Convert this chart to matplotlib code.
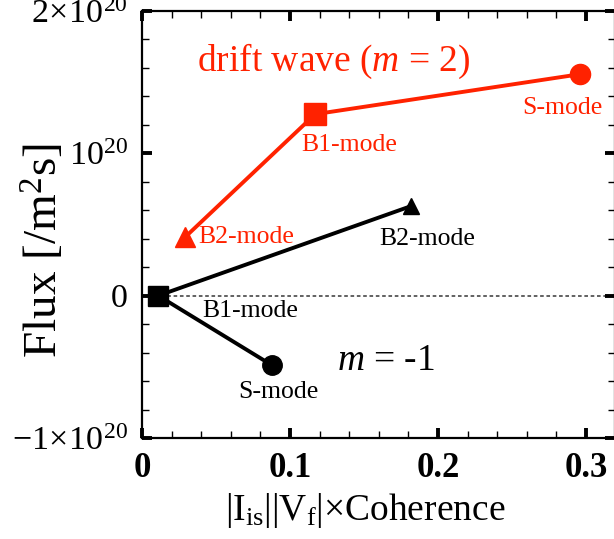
import matplotlib
matplotlib.use("Agg")
import matplotlib.pyplot as plt
from matplotlib.ticker import MultipleLocator, FixedLocator, FixedFormatter

plt.rcParams['font.family'] = ['Liberation Serif', 'DejaVu Serif']
plt.rcParams['mathtext.fontset'] = 'custom'
plt.rcParams['mathtext.rm'] = 'Liberation Serif'
plt.rcParams['mathtext.it'] = 'Liberation Serif:italic'
plt.rcParams['mathtext.bf'] = 'Liberation Serif:bold'

# drift wave (m = 2): B2, B1, S modes
drift_x = [0.029, 0.117, 0.296]
drift_y = [0.41e20, 1.275e20, 1.556e20]
drift_labels = ["B2-mode", "B1-mode", "S-mode"]

# m = -1 branch: B1 at the origin, to B2 and to S
m1_up_x = [0.011, 0.182]
m1_up_y = [0.0, 0.63e20]
m1_down_x = [0.011, 0.088]
m1_down_y = [0.0, -0.49e20]
m1_labels = ["B1-mode", "B2-mode", "S-mode"]

y_ticks = [-1e20, 0, 1e20, 2e20]
y_tick_labels = [r"$-1\!\times\!10^{20}$", "0", r"$10^{20}$", r"$2\!\times\!10^{20}$"]
x_ticks = [0, 0.1, 0.2, 0.3]
x_tick_labels = ["0", "0.1", "0.2", "0.3"]

RED = "#ff2200"

fig = plt.figure(figsize=(6.14, 5.39), dpi=100)
ax = fig.add_axes([142 / 614, 1 - 438 / 539, 473 / 614, 427 / 539])

ax.axhline(0, color="#555555", lw=1.3, ls=(0, (2, 1.5)), zorder=1)

# red drift-wave branch
ax.plot(drift_x[:2], drift_y[:2], color=RED, lw=2.8, zorder=3)
ax.plot(drift_x[1:], drift_y[1:], color=RED, lw=2.8, zorder=3)
ax.plot(drift_x[0], drift_y[0], marker="^", ms=15, color=RED, zorder=4)
ax.plot(drift_x[1], drift_y[1], marker="s", ms=16, color=RED, zorder=4)
ax.plot(drift_x[2], drift_y[2], marker="o", ms=14.5, color=RED, zorder=4)

# black m = -1 branch
ax.plot(m1_up_x, m1_up_y, color="black", lw=2.8, zorder=3)
ax.plot(m1_down_x, m1_down_y, color="black", lw=2.8, zorder=3)
ax.plot(m1_up_x[0], m1_up_y[0], marker="s", ms=15, color="black", zorder=4)
ax.plot(m1_up_x[1], m1_up_y[1], marker="^", ms=12, color="black", zorder=4)
ax.plot(m1_down_x[1], m1_down_y[1], marker="o", ms=14, color="black", zorder=4)

lab_fs = 18.5
ax.text(0.0378, 0.41e20, drift_labels[0], color=RED, fontsize=lab_fs, ha="left", va="center")
ax.text(0.140, 1.06e20, drift_labels[1], color=RED, fontsize=lab_fs, ha="center", va="center")
ax.text(0.284, 1.32e20, drift_labels[2], color=RED, fontsize=lab_fs, ha="center", va="center")

ax.text(0.073, -0.11e20, m1_labels[0], color="black", fontsize=lab_fs, ha="center", va="center")
ax.text(0.193, 0.40e20, m1_labels[1], color="black", fontsize=lab_fs, ha="center", va="center")
ax.text(0.092, -0.68e20, m1_labels[2], color="black", fontsize=lab_fs, ha="center", va="center")

ax.text(0.037, 1.645e20, r"drift wave ($m$ = 2)", color=RED, fontsize=27, ha="left", va="center")
ax.text(0.132, -0.46e20, r"$m$ = -1", color="black", fontsize=27, ha="left", va="center")

ax.set_xlim(0, 0.3196)
ax.set_ylim(-1e20, 2e20)

ax.xaxis.set_major_locator(FixedLocator(x_ticks))
ax.xaxis.set_major_formatter(FixedFormatter(x_tick_labels))
ax.xaxis.set_minor_locator(MultipleLocator(0.02))
ax.yaxis.set_major_locator(FixedLocator(y_ticks))
ax.yaxis.set_major_formatter(FixedFormatter(y_tick_labels))
ax.yaxis.set_minor_locator(MultipleLocator(0.2e20))

ax.tick_params(which="both", direction="in", top=True, right=True)
ax.tick_params(which="major", length=7, width=2.8)
ax.tick_params(which="minor", length=5, width=1)
ax.tick_params(axis="x", which="major", labelsize=25, pad=10)
ax.tick_params(axis="y", which="major", labelsize=24.5, pad=10)
for lbl in ax.get_xticklabels():
    lbl.set_fontweight("bold")

for sp in ax.spines.values():
    sp.set_linewidth(1.6)

ax.set_xlabel(r"|I$_{\rm is}$||V$_{\rm f}$|$\times$Coherence", fontsize=27)
ax.xaxis.set_label_coords((365 - 142) / 473, -(510 - 438) / 427)
ax.xaxis.label.set_va("center")
ax.set_ylabel(r"Flux [/m$^2$s]", fontsize=34)
ax.yaxis.set_label_coords(-(142 - 44) / 473, (438 - 251) / 427)
ax.yaxis.label.set_va("center")

fig.savefig("out.png", dpi=100)
